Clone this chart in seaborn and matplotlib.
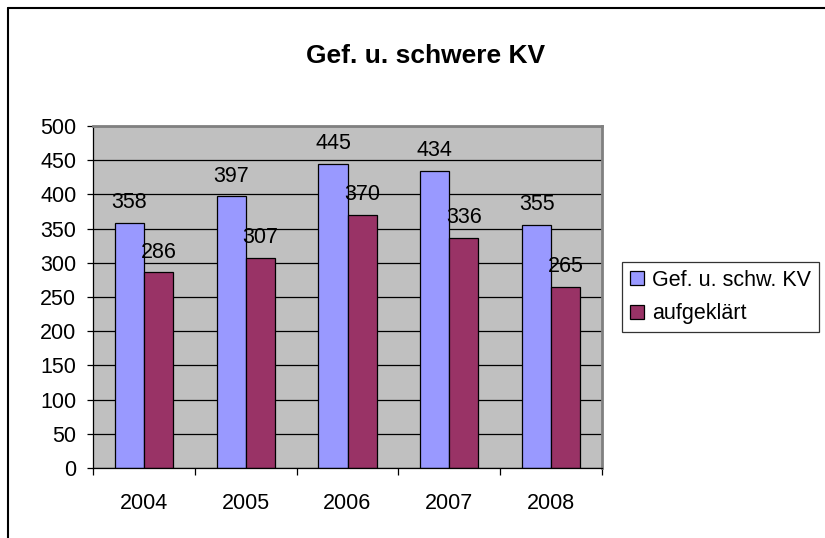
import matplotlib
matplotlib.use("Agg")
import matplotlib.pyplot as plt
from matplotlib.lines import Line2D
import seaborn as sns
import pandas as pd

years = ["2004", "2005", "2006", "2007", "2008"]
total = [358, 397, 445, 434, 355]
solved = [286, 307, 370, 336, 265]
series_names = ["Gef. u. schw. KV", "aufgeklärt"]
title = "Gef. u. schwere KV"

df = pd.DataFrame({
    "Jahr": years * 2,
    "Wert": total + solved,
    "Serie": [series_names[0]] * len(years) + [series_names[1]] * len(years),
})

sns.set_theme(style="white")
plt.rcParams["font.family"] = ["Liberation Sans", "DejaVu Sans"]
plt.rcParams["text.color"] = "black"

FS = 15.5
W, H = 825, 538
fig = plt.figure(figsize=(W / 100, H / 100), dpi=100)
L, R, T, B = 93, 602, 126, 468
ax = fig.add_axes([L / W, 1 - B / H, (R - L) / W, (B - T) / H])
ax.set_facecolor("#C0C0C0")

sns.barplot(data=df, x="Jahr", y="Wert", hue="Serie", ax=ax,
            palette=["#9999FF", "#993366"], width=0.57,
            edgecolor="black", linewidth=0.9, saturation=1, legend=True)

ax.set_ylim(0, 500)
ax.set_xlim(-0.5, 4.5)
ax.set_yticks(range(0, 501, 50))
ax.yaxis.grid(True, color="black", linewidth=0.9)
ax.set_axisbelow(True)
ax.set_xlabel("")
ax.set_ylabel("")
ax.tick_params(axis="y", labelsize=FS, length=4.5, width=0.9, color="black",
               left=True, pad=7.5, labelcolor="black")
ax.tick_params(axis="x", which="major", labelsize=FS, length=0, pad=18,
               labelcolor="black")
ax.set_xticks([i - 0.5 for i in range(len(years) + 1)], minor=True)
ax.tick_params(axis="x", which="minor", length=5, width=0.9, color="black",
               bottom=True)
for s in ["left", "bottom"]:
    ax.spines[s].set_color("black")
    ax.spines[s].set_linewidth(0.9)
for s in ["top", "right"]:
    ax.spines[s].set_color("#808080")
    ax.spines[s].set_linewidth(2)

for c in ax.containers:
    ax.bar_label(c, padding=7, fontsize=FS, color="black")

h, l = ax.get_legend_handles_labels()
ax.get_legend().remove()
leg = fig.legend(h, l, loc="upper left",
                 bbox_to_anchor=(622 / W, 1 - 262 / H),
                 frameon=True, fancybox=False, fontsize=FS,
                 handlelength=0.68, handleheight=0.68, handletextpad=0.37,
                 borderpad=0.35, labelspacing=0.6, borderaxespad=0)
leg.get_frame().set_edgecolor("black")
leg.get_frame().set_linewidth(0.9)
for p in leg.get_patches():
    p.set_edgecolor("black")
    p.set_linewidth(0.9)
for t in leg.get_texts():
    t.set_color("black")

fig.text(426 / W, 1 - 56 / H, title, ha="center", va="center",
         fontsize=19, fontweight="bold", color="black")

fig.add_artist(Line2D([8 / W, 1], [1 - 8 / H, 1 - 8 / H], color="black",
                      linewidth=1.5, transform=fig.transFigure))
fig.add_artist(Line2D([8 / W, 8 / W], [0, 1 - 8 / H], color="black",
                      linewidth=1.5, transform=fig.transFigure))

fig.savefig("out.png", dpi=100)
